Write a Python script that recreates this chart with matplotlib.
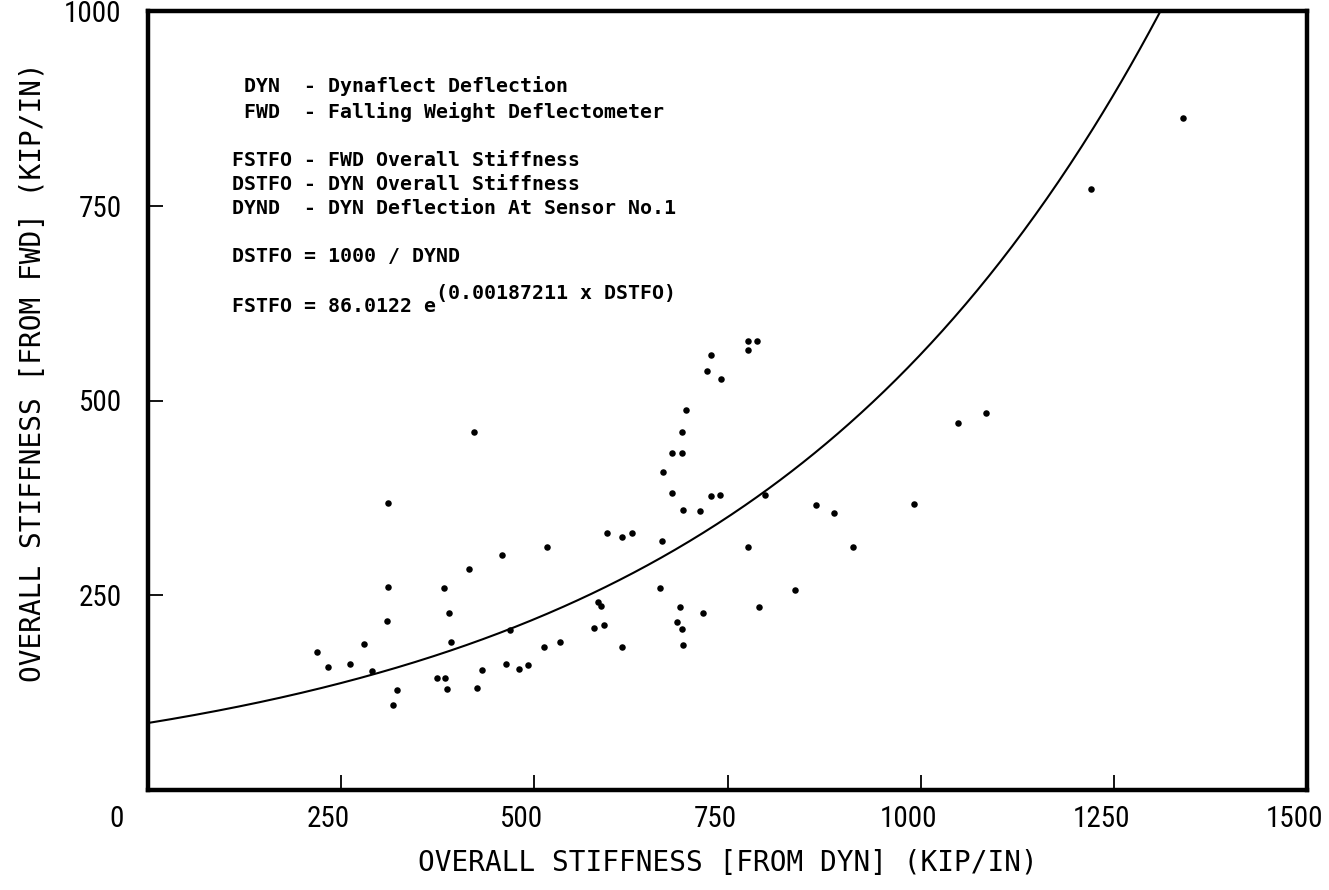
import numpy as np
import matplotlib
matplotlib.use('Agg')
import matplotlib.pyplot as plt
from matplotlib import font_manager, transforms

# points: DYN overall stiffness (x) vs FWD overall stiffness (y), kip/in
dyn_stiff = [422, 310, 415, 310, 383, 389, 309, 279, 392, 219,
             233, 261, 290, 374, 384, 432, 322, 387, 426, 317,
             463, 480, 492,
             777, 788, 776, 729, 724, 742, 696, 691, 678, 691,
             666, 678, 729, 740, 693, 714, 798, 594, 614, 627,
             665, 517, 458, 777, 837, 662, 583, 586, 688, 718,
             791, 468, 577, 590, 684, 691, 512, 533, 613, 693,
             1048, 1085, 864, 888, 991, 912,
             1340, 1221]
fwd_stiff = [459, 369, 284, 261, 259, 227, 217, 188, 190, 177,
             158, 162, 153, 144, 144, 154, 128, 130, 131, 109,
             162, 155, 160,
             577, 577, 565, 559, 538, 528, 488, 459, 432, 432,
             408, 381, 378, 379, 360, 358, 379, 330, 325, 330,
             320, 312, 302, 312, 257, 259, 241, 236, 235, 227,
             235, 206, 208, 212, 216, 207, 184, 190, 184, 186,
             471, 484, 366, 356, 367, 312,
             863, 772]

# regression printed on the chart: FSTFO = 86.0122 e^(0.00187211 x DSTFO)
fit_a = 86.0122
fit_b = 0.00187211

x_ticks = [250, 500, 750, 1000, 1250, 1500]
y_ticks = [250, 500, 750, 1000]

notes = [' DYN  - Dynaflect Deflection',
         ' FWD  - Falling Weight Deflectometer',
         'FSTFO - FWD Overall Stiffness',
         'DSTFO - DYN Overall Stiffness',
         'DYND  - DYN Deflection At Sensor No.1',
         'DSTFO = 1000 / DYND',
         'FSTFO = 86.0122 e']
note_rows = [86, 112, 160, 184, 208, 257, 307]   # pixel rows of the note lines
sup_text = '(0.00187211 x DSTFO)'

# pick a narrow face for the tick numbers if one is there
installed = {f.name for f in font_manager.fontManager.ttflist}
narrow = 'DejaVu Sans'
for name in ['Liberation Sans Narrow', 'Roboto Condensed', 'DejaVu Sans Condensed']:
    if name in installed:
        narrow = name
        break
mono = 'DejaVu Sans Mono'

W, H = 1329, 890
fig = plt.figure(figsize=(W / 100, H / 100), dpi=100)
ax = fig.add_axes([148 / W, 1 - 790 / H, (1307 - 148) / W, (790 - 11) / H])

# fitted curve
curve_x = np.linspace(0, 1500, 500)
ax.plot(curve_x, fit_a * np.exp(fit_b * curve_x), color='black', linewidth=1.5)

# measured points
ax.scatter(dyn_stiff, fwd_stiff, s=22, color='black', linewidths=0, zorder=3)

ax.set_xlim(0, 1500)
ax.set_ylim(0, 1000)
ax.set_xticks(x_ticks)
ax.set_yticks(y_ticks)
ax.tick_params(direction='in', length=11, width=1.3, labelsize=21)
ax.tick_params(axis='x', pad=11)
ax.tick_params(axis='y', pad=19)

# the scanned x numbers sit a little left of their ticks
shift = transforms.ScaledTranslation(-9 / 72, 0, fig.dpi_scale_trans)
for lbl in ax.get_xticklabels():
    lbl.set_family(narrow)
    lbl.set_transform(lbl.get_transform() + shift)
for lbl in ax.get_yticklabels():
    lbl.set_family(narrow)
for sp in ax.spines.values():
    sp.set_linewidth(3.2)

# shared zero at the corner
fig.text(117 / W, 1 - 819 / H, '0', ha='center', va='center', fontsize=21, family=narrow)

# axis titles
fig.text(728 / W, 1 - 863 / H, 'OVERALL STIFFNESS [FROM DYN] (KIP/IN)',
         ha='center', va='center', fontsize=20, family=mono)
fig.text(33 / W, 1 - 372 / H, 'OVERALL STIFFNESS [FROM FWD] (KIP/IN)',
         ha='center', va='center', rotation=90, fontsize=20, family=mono)

# notes block
for line, row in zip(notes, note_rows):
    fig.text(232 / W, 1 - row / H, line, ha='left', va='center', fontsize=14.3,
             family=mono, weight='bold')
fig.text(436 / W, 1 - 293 / H, sup_text, ha='left', va='center', fontsize=14.3,
         family=mono, weight='bold')

fig.savefig('out.png', dpi=100)
